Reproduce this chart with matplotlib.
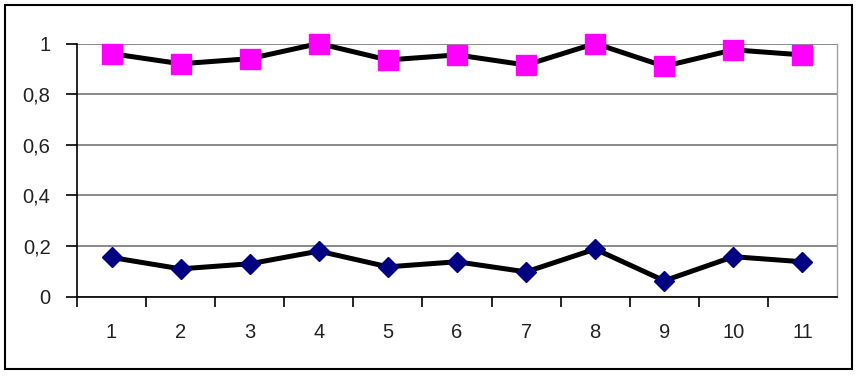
import matplotlib
matplotlib.use("Agg")
import matplotlib.pyplot as plt
from matplotlib.patches import Rectangle
from matplotlib.ticker import FuncFormatter

categories = ["1", "2", "3", "4", "5", "6", "7", "8", "9", "10", "11"]
upper = [0.96, 0.92, 0.94, 1.0, 0.935, 0.955, 0.915, 1.0, 0.91, 0.975, 0.955]
lower = [0.155, 0.11, 0.13, 0.18, 0.118, 0.138, 0.098, 0.188, 0.063, 0.158, 0.138]
yticks = [0, 0.2, 0.4, 0.6, 0.8, 1.0]

plt.rcParams['font.family'] = ['Liberation Sans', 'DejaVu Sans']

W, H = 858, 377
fig = plt.figure(figsize=(W / 100, H / 100), dpi=100)
ax = fig.add_axes([77 / W, 1 - 296.7 / H, (837 - 77) / W, (296.7 - 43.5) / H])

x = list(range(1, len(categories) + 1))
ax.plot(x, upper, color='black', lw=3.6, marker='s', ms=14.5,
        mfc='#FF00FF', mec='#FF00FF', zorder=3, clip_on=False)
ax.plot(x, lower, color='black', lw=3.6, marker='D', ms=10.5,
        mfc='#000080', mec='#000080', zorder=3, clip_on=False)

ax.set_xlim(0.5, len(categories) + 0.5)
ax.set_ylim(0, 1)
ax.set_yticks(yticks)
ax.yaxis.set_major_formatter(FuncFormatter(lambda v, p: ('%g' % v).replace('.', ',')))
ax.set_xticks(x)
ax.set_xticklabels(categories)
ax.set_xticks([i + 0.5 for i in range(len(categories))], minor=True)
ax.tick_params(axis='x', which='major', length=0, pad=19, labelsize=14.5, colors='#222222')
ax.tick_params(axis='x', which='minor', length=7, width=1.2, direction='out', color='black')
ax.tick_params(axis='y', length=8, width=1.2, pad=11, labelsize=14.5, colors='#222222')
ax.tick_params(axis='y', color='black')
ax.grid(axis='y', color='#808080', lw=1.3, zorder=0)
ax.set_axisbelow(True)

ax.spines['right'].set_color('#a0a0a0')
ax.spines['right'].set_linewidth(1.0)
ax.spines['top'].set_visible(False)
ax.spines['left'].set_linewidth(1.2)
ax.spines['bottom'].set_linewidth(1.2)

# outer chart border
fig.patches.append(Rectangle((5 / W, 1 - 369 / H), (852 - 5) / W, (369 - 5) / H,
                             transform=fig.transFigure, fill=False,
                             edgecolor='black', lw=1.5))

fig.savefig("out.png", dpi=100)
